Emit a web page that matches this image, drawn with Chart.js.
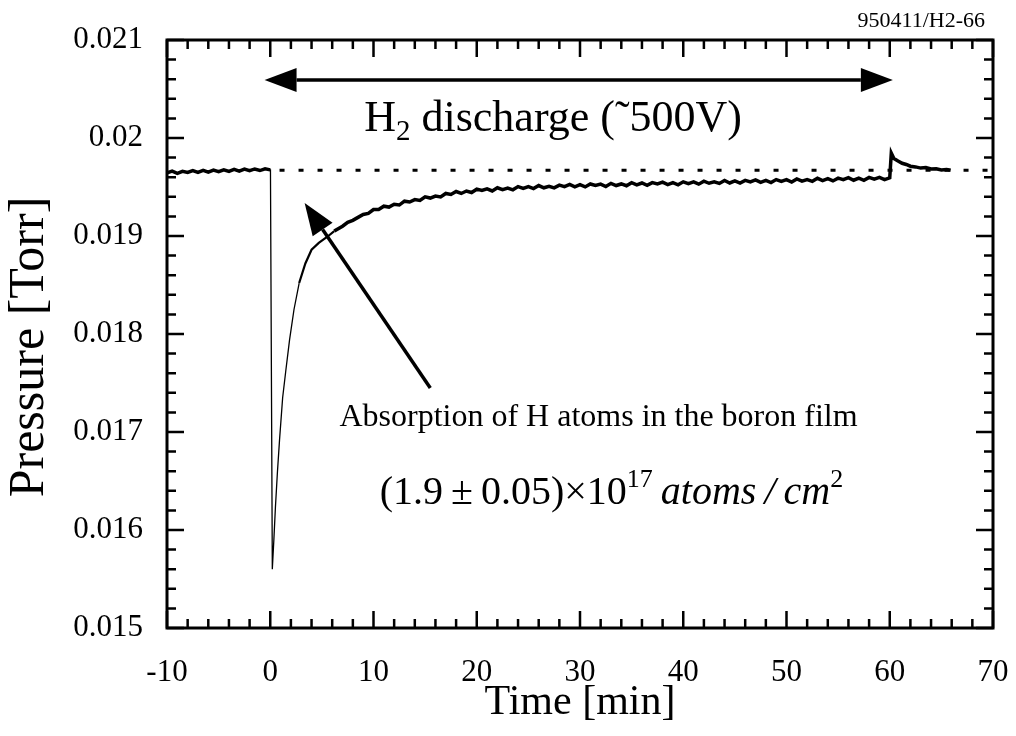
<!DOCTYPE html>
<html>
<head>
<meta charset="utf-8">
<script src="https://cdn.jsdelivr.net/npm/chart.js@4.4.1/dist/chart.umd.min.js"></script>
<style>
  html, body { margin: 0; padding: 0; background: #fff; }
  #wrap { width: 1016px; height: 736px; }
</style>
</head>
<body>
<div id="wrap"><canvas id="chart"></canvas></div>
<script>
// pressure trace (time in min, pressure in Torr)
const times = [
  -10, -9.5, -9, -8.5, -8, -7.5, -7, -6.5, -6, -5.5, -5, -4.5, -4, -3.5, -3, -2.5, -2, -1.5, -1, -0.5, 0,
  0.02, 0.2, 0.35, 0.5, 0.7, 0.9, 1.2, 1.5, 1.87, 2.3, 2.8, 3.4, 4.0, 4.7, 5.5, 6.2, 7.0, 7.5, 8.0, 8.5, 9.0, 9.5,
  10, 10.5, 11, 11.5, 12, 12.5, 13, 13.5, 14, 14.5, 15, 15.5, 16, 16.5, 17, 17.5, 18, 18.5, 19, 19.5,
  20, 20.5, 21, 21.5, 22, 22.5, 23, 23.5, 24, 24.5, 25, 25.5, 26, 26.5, 27, 27.5, 28, 28.5, 29, 29.5,
  30, 30.5, 31, 31.5, 32, 32.5, 33, 33.5, 34, 34.5, 35, 35.5, 36, 36.5, 37, 37.5, 38, 38.5, 39, 39.5,
  40, 40.5, 41, 41.5, 42, 42.5, 43, 43.5, 44, 44.5, 45, 45.5, 46, 46.5, 47, 47.5, 48, 48.5, 49, 49.5,
  50, 50.5, 51, 51.5, 52, 52.5, 53, 53.5, 54, 54.5, 55, 55.5, 56, 56.5, 57, 57.5, 58, 58.5, 59, 59.5,
  60, 60.15, 60.4, 60.8, 61.2, 61.6, 62, 62.5, 63, 63.5, 64, 64.5, 65, 65.5, 65.9
];
const pressure = [
  0.019645, 0.019662, 0.019640, 0.019660, 0.019648, 0.019668, 0.019650, 0.019670, 0.019652, 0.019673, 0.019657,
  0.019676, 0.019660, 0.019680, 0.019662, 0.019682, 0.019666, 0.019684, 0.019668, 0.019686, 0.019675,
  0.019680, 0.015600, 0.015900, 0.016230, 0.016600, 0.016920, 0.017350, 0.017620, 0.017940, 0.018250, 0.018520,
  0.018720, 0.018860, 0.018930, 0.018990, 0.019050, 0.019100, 0.019140, 0.019160, 0.019190, 0.019220, 0.019230,
  0.019270, 0.019270, 0.019304, 0.019295, 0.019324, 0.019316, 0.019355, 0.019347, 0.019371, 0.019362, 0.019399,
  0.019387, 0.019408, 0.019399, 0.019434, 0.019424, 0.019454, 0.019434, 0.019459, 0.019444,
  0.019478, 0.019464, 0.019482, 0.019460, 0.019492, 0.019473, 0.019489, 0.019471, 0.019504, 0.019486,
  0.019505, 0.019484, 0.019515, 0.019492, 0.019507, 0.019491, 0.019519, 0.019504, 0.019526, 0.019501,
  0.019523, 0.019501, 0.019531, 0.019515, 0.019530, 0.019505, 0.019537, 0.019515, 0.019531, 0.019513,
  0.019544, 0.019522, 0.019541, 0.019517, 0.019545, 0.019531, 0.019550, 0.019524, 0.019545, 0.019523,
  0.019553, 0.019535, 0.019553, 0.019529, 0.019559, 0.019538, 0.019553, 0.019536, 0.019566, 0.019541,
  0.019562, 0.019540, 0.019567, 0.019552, 0.019573, 0.019547, 0.019567, 0.019545, 0.019576, 0.019557,
  0.019575, 0.019551, 0.019582, 0.019560, 0.019575, 0.019558, 0.019589, 0.019566, 0.019586, 0.019562,
  0.019590, 0.019574, 0.019595, 0.019569, 0.019591, 0.019568, 0.019598, 0.019580, 0.019598, 0.019575,
  0.019594, 0.019845, 0.019790, 0.019765, 0.019742, 0.019730, 0.019712, 0.019705, 0.019693, 0.019698,
  0.019684, 0.019686, 0.019674, 0.019678, 0.019670
];

// dotted reference level
const refLevel = 0.01967;
const refFrom = 0.9, refTo = 70;

const xTickValues = [-10, 0, 10, 20, 30, 40, 50, 60, 70];
const xTickLabels = ['-10', '0', '10', '20', '30', '40', '50', '60', '70'];
const yTickValues = [0.015, 0.016, 0.017, 0.018, 0.019, 0.020, 0.021];
const yTickLabels = ['0.015', '0.016', '0.017', '0.018', '0.019', '0.02', '0.021'];

// annotation anchors in data units
const discharge = { from: -0.55, to: 60.3, level: 0.020592 };
const absArrow = { tail: [15.5, 0.01745], tip: [3.33, 0.019337] };
const h2Label = { t: 9.1, p: 0.02007 };
const absLabel = { t: 6.7, p: 0.01706 };
const doseLabel = { t: 10.6, p: 0.01627 };

const SERIF = "'Liberation Serif', 'Times New Roman', serif";

function arrowHead(ctx, fx, fy, tx, ty, len, half) {
  const a = Math.atan2(ty - fy, tx - fx);
  const bx = tx - len * Math.cos(a), by = ty - len * Math.sin(a);
  ctx.beginPath();
  ctx.moveTo(tx, ty);
  ctx.lineTo(bx + half * Math.sin(a), by - half * Math.cos(a));
  ctx.lineTo(bx - half * Math.sin(a), by + half * Math.cos(a));
  ctx.closePath();
  ctx.fill();
  return [bx, by];
}

function textRuns(ctx, x, y, parts) {
  for (const [txt, font, dy] of parts) {
    ctx.font = font;
    ctx.fillText(txt, x, y + dy);
    x += ctx.measureText(txt).width;
  }
}

const decor = {
  id: 'decor',
  afterDatasetsDraw(chart) {
    const { ctx, chartArea: a, scales: { x, y } } = chart;
    ctx.save();
    ctx.strokeStyle = '#000';
    ctx.fillStyle = '#000';

    // frame
    ctx.lineWidth = 3;
    ctx.strokeRect(a.left, a.top, a.right - a.left, a.bottom - a.top);

    // inward ticks on all four sides
    ctx.lineWidth = 2.5;
    ctx.beginPath();
    for (let i = 0; i <= 40; i++) {
      const px = x.getPixelForValue(-10 + i * 2);
      const len = i % 5 === 0 ? 17 : 9;
      ctx.moveTo(px, a.bottom); ctx.lineTo(px, a.bottom - len);
      ctx.moveTo(px, a.top); ctx.lineTo(px, a.top + len);
    }
    for (let i = 0; i <= 30; i++) {
      const py = y.getPixelForValue(0.015 + i * 0.0002);
      const len = i % 5 === 0 ? 17 : 9;
      ctx.moveTo(a.left, py); ctx.lineTo(a.left + len, py);
      ctx.moveTo(a.right, py); ctx.lineTo(a.right - len, py);
    }
    ctx.stroke();

    // double arrow for discharge period
    const dy = y.getPixelForValue(discharge.level);
    const dx0 = x.getPixelForValue(discharge.from);
    const dx1 = x.getPixelForValue(discharge.to);
    const l = arrowHead(ctx, dx1, dy, dx0, dy, 32, 12);
    const r = arrowHead(ctx, dx0, dy, dx1, dy, 32, 12);
    ctx.lineWidth = 3.5;
    ctx.beginPath();
    ctx.moveTo(l[0], dy); ctx.lineTo(r[0], dy);
    ctx.stroke();

    // arrow pointing at the absorption dip
    const tx0 = x.getPixelForValue(absArrow.tail[0]), ty0 = y.getPixelForValue(absArrow.tail[1]);
    const tx1 = x.getPixelForValue(absArrow.tip[0]), ty1 = y.getPixelForValue(absArrow.tip[1]);
    const b = arrowHead(ctx, tx0, ty0, tx1, ty1, 32, 12);
    ctx.beginPath();
    ctx.moveTo(tx0, ty0); ctx.lineTo(b[0], b[1]);
    ctx.stroke();

    ctx.textBaseline = 'alphabetic';
    ctx.textAlign = 'left';
    textRuns(ctx, x.getPixelForValue(h2Label.t), y.getPixelForValue(h2Label.p), [
      ['H', '44px ' + SERIF, 0],
      ['2', '29px ' + SERIF, 9],
      [' discharge (\u02DC500V)', '44px ' + SERIF, 0]
    ]);

    ctx.font = '32px ' + SERIF;
    ctx.fillText('Absorption of H atoms in the boron film',
      x.getPixelForValue(absLabel.t), y.getPixelForValue(absLabel.p));

    textRuns(ctx, x.getPixelForValue(doseLabel.t), y.getPixelForValue(doseLabel.p), [
      ['(1.9\u2009\u00B1\u20090.05)\u00D710', '40px ' + SERIF, 0],
      ['17', '26px ' + SERIF, -17],
      ['\u2009atoms\u2009/\u2009cm', 'italic 40px ' + SERIF, 0],
      ['2', '26px ' + SERIF, -17]
    ]);

    // y axis title, a little below the middle of the axis like the original
    ctx.save();
    ctx.translate(30, (a.top + a.bottom) / 2 + 13);
    ctx.rotate(-Math.PI / 2);
    ctx.textAlign = 'center';
    ctx.textBaseline = 'middle';
    ctx.font = '50px ' + SERIF;
    ctx.fillText('Pressure [Torr]', 0, 0);
    ctx.restore();

    // run id, top right
    ctx.textAlign = 'right';
    ctx.font = '22px ' + SERIF;
    ctx.fillText('950411/H2-66', a.right - 8, a.top - 13);
    ctx.restore();
  }
};

const ctx = document.getElementById('chart').getContext('2d');

const chart = new Chart(ctx, {
  type: 'line',
  data: {
    datasets: [
      {
        data: times.map((t, i) => ({ x: t, y: pressure[i] })),
        borderColor: '#000',
        borderWidth: 3.5,
        pointRadius: 0,
        tension: 0,
        segment: {
          borderWidth: c => {
            const t = c.p0.parsed.x;
            if (t >= 0 && t < 2.5) return 1.3;
            if (t >= 2.5 && t < 6) return 2.2;
            return 3.5;
          }
        }
      },
      {
        data: [{ x: refFrom, y: refLevel }, { x: refTo, y: refLevel }],
        borderColor: '#000',
        borderWidth: 3,
        borderDash: [5, 14],
        pointRadius: 0
      }
    ]
  },
  options: {
    responsive: true,
    maintainAspectRatio: false,
    animation: false,
    layout: { padding: { left: 0, top: 40, right: 23, bottom: 0 } },
    plugins: {
      legend: { display: false },
      tooltip: { enabled: false }
    },
    scales: {
      x: {
        type: 'linear',
        min: -10,
        max: 70,
        afterFit: s => { s.height = 108; s.paddingLeft = 0; s.paddingRight = 0; },
        afterBuildTicks: s => { s.ticks = xTickValues.map(v => ({ value: v })); },
        grid: { display: false, drawTicks: false },
        border: { display: false },
        ticks: {
          padding: 26,
          color: '#000',
          font: { family: SERIF, size: 31 },
          maxRotation: 0,
          callback: v => xTickLabels[xTickValues.indexOf(v)]
        },
        title: {
          display: true,
          text: 'Time [min]',
          color: '#000',
          font: { family: SERIF, size: 42 },
          padding: { top: 0, bottom: 8 }
        }
      },
      y: {
        min: 0.015,
        max: 0.021,
        afterFit: s => { s.width = 167; s.paddingTop = 0; s.paddingBottom = 0; },
        afterBuildTicks: s => { s.ticks = yTickValues.map(v => ({ value: v })); },
        grid: { display: false, drawTicks: false },
        border: { display: false },
        ticks: {
          padding: 24,
          color: '#000',
          font: { family: SERIF, size: 31 },
          callback: v => yTickLabels[yTickValues.findIndex(w => Math.abs(w - v) < 1e-9)]
        }
      }
    }
  },
  plugins: [decor]
});
</script>
</body>
</html>
